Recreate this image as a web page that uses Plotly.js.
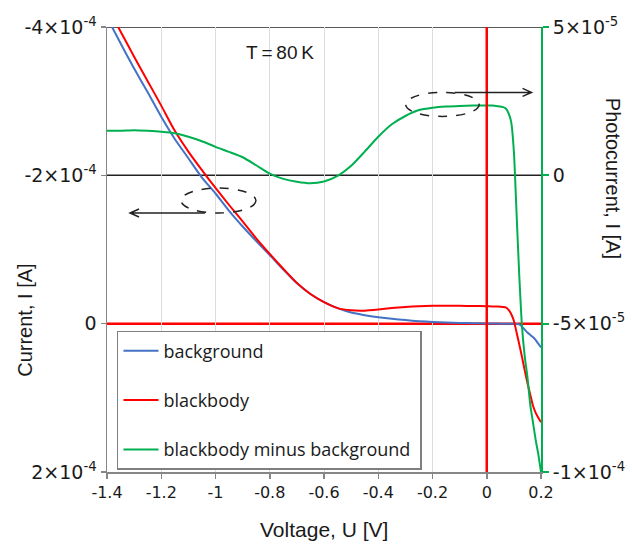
<!DOCTYPE html>
<html>
<head>
<meta charset="utf-8">
<script src="https://cdn.plot.ly/plotly-3.0.1.min.js"></script>
<style>
  html, body { margin: 0; padding: 0; background: #ffffff; }
  #chart { width: 632px; height: 549px; }
</style>
</head>
<body>
<div id="chart"></div>
<script>
// Bias voltage, U [V]
const voltage = [
  -1.4, -1.35, -1.3, -1.25, -1.2, -1.15, -1.1, -1.05, -1.0, -0.95,
  -0.9, -0.85, -0.8, -0.75, -0.7, -0.65, -0.6, -0.55, -0.5, -0.45,
  -0.4, -0.35, -0.3, -0.25, -0.2, -0.15, -0.1, -0.05, 0.0, 0.02,
  0.04, 0.06, 0.07, 0.08, 0.09, 0.1, 0.11, 0.12, 0.13, 0.14,
  0.15, 0.16, 0.17, 0.18, 0.19, 0.2
];

// Dark current (background), I [A]
const background = [
  -4.13e-4, -3.78e-4, -3.44e-4, -3.12e-4, -2.79e-4, -2.49e-4, -2.23e-4, -1.97e-4, -1.755e-4, -1.52e-4,
  -1.31e-4, -1.115e-4, -9.26e-5, -7.3e-5, -5.44e-5, -4.0e-5, -2.9e-5, -2.1e-5, -1.5e-5, -1.15e-5,
  -8.8e-6, -6.6e-6, -4.8e-6, -3.4e-6, -2.4e-6, -1.6e-6, -1.0e-6, -6e-7, -3e-7, -2e-7,
  -1e-7, 0, 0, 0, 0, 2e-7, 5e-7, 1e-6, 4e-6, 8e-6,
  1.2e-5, 1.5e-5, 1.8e-5, 2.2e-5, 2.7e-5, 3.2e-5
];

// Current under blackbody illumination, I [A]
const blackbody = [
  -4.28e-4, -3.94e-4, -3.60e-4, -3.27e-4, -2.94e-4, -2.60e-4, -2.32e-4, -2.07e-4, -1.83e-4, -1.60e-4,
  -1.38e-4, -1.15e-4, -9.4e-5, -7.4e-5, -5.5e-5, -4.0e-5, -2.9e-5, -2.1e-5, -1.8e-5, -1.75e-5,
  -1.9e-5, -2.1e-5, -2.25e-5, -2.35e-5, -2.4e-5, -2.4e-5, -2.4e-5, -2.38e-5, -2.35e-5, -2.33e-5,
  -2.3e-5, -2.25e-5, -2.2e-5, -1.9e-5, -1.3e-5, -4e-6, 1.2e-5, 2.8e-5, 4.5e-5, 6.3e-5,
  8.0e-5, 9.5e-5, 1.1e-4, 1.2e-4, 1.27e-4, 1.33e-4
];

// Photocurrent (blackbody minus background), I [A]
const photocurrent = [
  1.5e-5, 1.5e-5, 1.52e-5, 1.5e-5, 1.47e-5, 1.42e-5, 1.3e-5, 1.15e-5, 9.6e-6, 7.9e-6,
  6.1e-6, 3.4e-6, 6e-7, -1.2e-6, -2.2e-6, -2.7e-6, -2.1e-6, -2e-7, 3.2e-6, 8e-6,
  1.3e-5, 1.72e-5, 2.0e-5, 2.2e-5, 2.28e-5, 2.32e-5, 2.34e-5, 2.35e-5, 2.35e-5, 2.35e-5,
  2.33e-5, 2.3e-5, 2.25e-5, 2.1e-5, 1.8e-5, 8e-6, -1.3e-5, -3.4e-5, -5.1e-5, -6.1e-5,
  -6.8e-5, -7.7e-5, -8.3e-5, -8.9e-5, -9.4e-5, -1.0e-4
];

// Tick positions and labels
const xTickVals = [-1.4, -1.2, -1.0, -0.8, -0.6, -0.4, -0.2, 0, 0.2];
const xTickText = ['-1.4', '-1.2', '-1', '-0.8', '-0.6', '-0.4', '-0.2', '0', '0.2'];
const leftTickVals = [-4e-4, -2e-4, 0, 2e-4];
const leftTickText = ['-4\u00d710<sup>-4</sup>', '-2\u00d710<sup>-4</sup>', '0', '2\u00d710<sup>-4</sup>'];
const rightTickVals = [5e-5, 0, -5e-5, -1e-4];
const rightTickText = ['5\u00d710<sup>-5</sup>', '0', '-5\u00d710<sup>-5</sup>', '-1\u00d710<sup>-4</sup>'];

const BLUE = '#4472c4';
const RED = '#ff0000';
const GREEN = '#00b050';
const AXIS_GRAY = '#868686';
const TEXT = '#1a1a1a';
const SANS = 'Liberation Sans, Arial, sans-serif';
const TICK_FONT = 'DejaVu Sans, sans-serif';
const LEGEND_FONT = 'Open Sans, sans-serif';

const traces = [
  {
    x: voltage, y: background, name: 'background', legendgroup: 'a',
    type: 'scatter', mode: 'lines', yaxis: 'y',
    line: { color: BLUE, width: 2, shape: 'spline', smoothing: 0.6 }
  },
  {
    x: voltage, y: blackbody, name: 'blackbody', legendgroup: 'b',
    type: 'scatter', mode: 'lines', yaxis: 'y',
    line: { color: RED, width: 2, shape: 'spline', smoothing: 0.6 }
  },
  {
    x: voltage, y: photocurrent, name: 'blackbody minus background\u00a0', legendgroup: 'c',
    type: 'scatter', mode: 'lines', yaxis: 'y2',
    line: { color: GREEN, width: 2, shape: 'spline', smoothing: 0.6 }
  }
];

// Dashed ellipses and arrows pointing each curve group to its axis
const dash = { color: '#222222', width: 1.5, dash: 'dash' };
const arrowLine = { color: '#222222', width: 1.5 };

const shapes = [
  // horizontal reference lines
  { type: 'line', xref: 'paper', x0: 0, x1: 1, yref: 'y', y0: -4e-4, y1: -4e-4,
    line: { color: '#222222', width: 1.5 }, layer: 'between' },
  { type: 'line', xref: 'paper', x0: 0, x1: 1, yref: 'y', y0: -2e-4, y1: -2e-4,
    line: { color: '#222222', width: 1.5 }, layer: 'between' },
  { type: 'line', xref: 'paper', x0: 0, x1: 1, yref: 'y', y0: 0, y1: 0,
    line: { color: RED, width: 2.5 }, layer: 'between' },
  // zero-bias line
  { type: 'line', xref: 'x', x0: 0, x1: 0, yref: 'paper', y0: 0, y1: 1,
    line: { color: RED, width: 2.5 }, layer: 'above' },
  // ellipse around the I-V curves
  { type: 'circle', xref: 'x', x0: -1.127, x1: -0.851, yref: 'paper', y0: 0.582, y1: 0.638,
    line: dash, layer: 'above' },
  // ellipse around the photocurrent plateau
  { type: 'circle', xref: 'x', x0: -0.299, x1: -0.028, yref: 'paper', y0: 0.799, y1: 0.853,
    line: dash, layer: 'above' },
  // arrow to the left axis
  { type: 'path', xref: 'x', yref: 'paper',
    path: 'M -1.039,0.582 L -1.315,0.582 M -1.282,0.573 L -1.315,0.582 L -1.282,0.591',
    line: arrowLine, layer: 'above' },
  // arrow to the right axis
  { type: 'path', xref: 'x', yref: 'paper',
    path: 'M -0.118,0.853 L 0.165,0.853 M 0.132,0.844 L 0.165,0.853 L 0.132,0.862',
    line: arrowLine, layer: 'above' }
];

const annotations = [
  { text: 'T\u2009=\u200980\u2009K', xref: 'paper', yref: 'paper', x: 0.399, y: 0.942,
    xanchor: 'center', yanchor: 'middle', showarrow: false,
    font: { family: SANS, size: 19, color: TEXT } },
  { text: 'Voltage, U [V]', xref: 'paper', yref: 'paper', x: 0.5, y: -0.13,
    xanchor: 'center', yanchor: 'middle', showarrow: false,
    font: { family: SANS, size: 21, color: TEXT } },
  { text: 'Current, I [A]', xref: 'paper', yref: 'paper', x: -0.189, y: 0.342,
    xanchor: 'center', yanchor: 'middle', textangle: -90, showarrow: false,
    font: { family: SANS, size: 20, color: TEXT } },
  { text: 'Photocurrent, I [A]', xref: 'paper', yref: 'paper', x: 1.166, y: 0.661,
    xanchor: 'center', yanchor: 'middle', textangle: 90, showarrow: false,
    font: { family: SANS, size: 20, color: TEXT } }
];

const layout = {
  width: 632,
  height: 549,
  margin: { l: 107, r: 91, t: 27, b: 77, pad: 0 },
  paper_bgcolor: '#ffffff',
  plot_bgcolor: '#ffffff',
  showlegend: true,
  legend: {
    x: 0.023, y: 0.317, xanchor: 'left', yanchor: 'top',
    bgcolor: '#ffffff', bordercolor: '#7f7f7f', borderwidth: 1.5,
    font: { family: LEGEND_FONT, size: 18, color: TEXT },
    itemwidth: 35, tracegroupgap: 23, traceorder: 'grouped'
  },
  xaxis: {
    range: [-1.4, 0.2],
    tickvals: xTickVals, ticktext: xTickText,
    showgrid: true, gridcolor: '#dcdcdc', gridwidth: 1,
    zeroline: false,
    showline: true, linecolor: AXIS_GRAY, linewidth: 1.5,
    ticks: 'outside', ticklen: 5, tickcolor: AXIS_GRAY, tickwidth: 1.5,
    tickfont: { family: TICK_FONT, size: 16, color: TEXT }
  },
  yaxis: {
    range: [2e-4, -4e-4],
    tickvals: leftTickVals, ticktext: leftTickText,
    showgrid: false, zeroline: false,
    showline: true, linecolor: AXIS_GRAY, linewidth: 1.5,
    ticks: 'outside', ticklen: 5, tickcolor: AXIS_GRAY, tickwidth: 1.5,
    tickfont: { family: TICK_FONT, size: 19, color: TEXT }
  },
  yaxis2: {
    overlaying: 'y', side: 'right',
    range: [-1e-4, 5e-5],
    tickvals: rightTickVals, ticktext: rightTickText,
    showgrid: false, zeroline: false,
    showline: true, linecolor: GREEN, linewidth: 2,
    ticks: 'outside', ticklen: 6, tickcolor: GREEN, tickwidth: 2,
    tickfont: { family: TICK_FONT, size: 19, color: TEXT }
  },
  shapes: shapes,
  annotations: annotations
};

Plotly.newPlot('chart', traces, layout, { displayModeBar: false, staticPlot: true });
</script>
</body>
</html>
